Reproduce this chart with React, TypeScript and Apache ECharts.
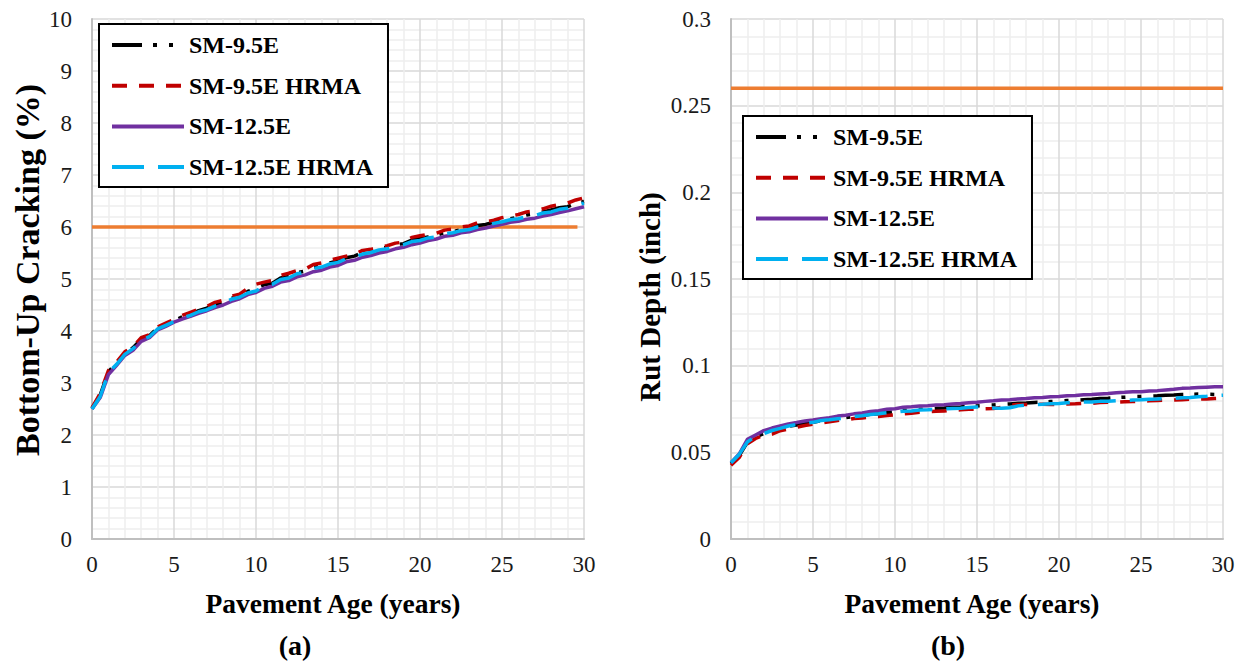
import React, { useEffect, useRef } from "react";
import * as echarts from "echarts";

// Pavement age (years)
const T = [0, 0.5, 1, 1.5, 2, 2.5, 3, 3.5, 4, 4.5, 5, 5.5, 6, 6.5, 7, 7.5, 8, 8.5, 9, 9.5, 10, 10.5, 11, 11.5, 12, 12.5, 13, 13.5, 14, 14.5, 15, 15.5, 16, 16.5, 17, 17.5, 18, 18.5, 19, 19.5, 20, 20.5, 21, 21.5, 22, 22.5, 23, 23.5, 24, 24.5, 25, 25.5, 26, 26.5, 27, 27.5, 28, 28.5, 29, 29.5, 30];

const NAMES = ["SM-9.5E", "SM-9.5E HRMA", "SM-12.5E", "SM-12.5E HRMA"];

// (a) Bottom-up cracking (%)
const CRACK_SM95 = [2.51, 2.77, 3.22, 3.38, 3.57, 3.68, 3.84, 3.91, 4.06, 4.13, 4.2, 4.27, 4.32, 4.39, 4.44, 4.51, 4.56, 4.63, 4.67, 4.76, 4.82, 4.89, 4.92, 5.02, 5.05, 5.12, 5.15, 5.23, 5.26, 5.31, 5.35, 5.41, 5.44, 5.51, 5.53, 5.58, 5.61, 5.66, 5.68, 5.75, 5.78, 5.81, 5.84, 5.89, 5.91, 5.95, 5.98, 6.03, 6.05, 6.09, 6.12, 6.16, 6.19, 6.23, 6.25, 6.29, 6.33, 6.37, 6.39, 6.45, 6.49];
const CRACK_SM95H = [2.52, 2.8, 3.24, 3.4, 3.6, 3.7, 3.87, 3.93, 4.08, 4.15, 4.22, 4.3, 4.36, 4.42, 4.47, 4.55, 4.59, 4.67, 4.71, 4.82, 4.9, 4.94, 4.97, 5.07, 5.11, 5.16, 5.19, 5.28, 5.31, 5.36, 5.4, 5.44, 5.47, 5.55, 5.57, 5.61, 5.64, 5.69, 5.71, 5.8, 5.83, 5.86, 5.88, 5.94, 5.96, 6.0, 6.02, 6.08, 6.1, 6.13, 6.18, 6.21, 6.24, 6.29, 6.31, 6.35, 6.4, 6.43, 6.46, 6.52, 6.56];
const CRACK_SM125 = [2.5, 2.72, 3.16, 3.34, 3.53, 3.63, 3.8, 3.87, 4.02, 4.09, 4.17, 4.23, 4.28, 4.34, 4.39, 4.45, 4.5, 4.57, 4.62, 4.7, 4.74, 4.82, 4.86, 4.94, 4.97, 5.04, 5.08, 5.14, 5.17, 5.23, 5.26, 5.33, 5.36, 5.42, 5.45, 5.5, 5.53, 5.58, 5.61, 5.66, 5.69, 5.74, 5.77, 5.82, 5.84, 5.89, 5.91, 5.95, 5.98, 6.02, 6.05, 6.09, 6.11, 6.15, 6.17, 6.21, 6.24, 6.28, 6.31, 6.35, 6.39];
const CRACK_SM125H = [2.5, 2.74, 3.2, 3.36, 3.55, 3.66, 3.82, 3.89, 4.04, 4.11, 4.18, 4.25, 4.3, 4.37, 4.41, 4.48, 4.53, 4.61, 4.65, 4.73, 4.77, 4.87, 4.9, 4.99, 5.02, 5.1, 5.13, 5.2, 5.23, 5.29, 5.32, 5.39, 5.42, 5.48, 5.51, 5.56, 5.58, 5.64, 5.66, 5.72, 5.74, 5.79, 5.81, 5.87, 5.89, 5.93, 5.95, 6.0, 6.02, 6.07, 6.1, 6.14, 6.16, 6.2, 6.22, 6.27, 6.29, 6.34, 6.36, 6.42, 6.46];
const CRACK_LIMIT_T = [0, 29.6];
const CRACK_LIMIT = [6, 6];

// (b) Rut depth (inch)
const RUT_SM95 = [0.0435, 0.0482, 0.0558, 0.059, 0.0608, 0.0625, 0.0638, 0.065, 0.0658, 0.0667, 0.0673, 0.0682, 0.0688, 0.0695, 0.07, 0.0707, 0.0712, 0.0719, 0.0723, 0.073, 0.0735, 0.0742, 0.0744, 0.0748, 0.075, 0.0754, 0.0756, 0.076, 0.0762, 0.0766, 0.0768, 0.0771, 0.0773, 0.0777, 0.0779, 0.0783, 0.0785, 0.0788, 0.079, 0.0793, 0.0795, 0.0799, 0.08, 0.0804, 0.0806, 0.081, 0.0812, 0.0816, 0.0818, 0.0821, 0.0822, 0.0825, 0.0826, 0.0829, 0.0831, 0.0834, 0.0835, 0.0836, 0.0835, 0.0834, 0.0833];
const RUT_SM95H = [0.0425, 0.047, 0.055, 0.058, 0.0598, 0.0605, 0.0625, 0.0635, 0.0645, 0.0655, 0.0662, 0.067, 0.0676, 0.0684, 0.0688, 0.0695, 0.0698, 0.0703, 0.0706, 0.0712, 0.0716, 0.0722, 0.0726, 0.0731, 0.0733, 0.0737, 0.0738, 0.0742, 0.0745, 0.0748, 0.075, 0.0752, 0.0753, 0.076, 0.0772, 0.0776, 0.0776, 0.0777, 0.0778, 0.0776, 0.0777, 0.0779, 0.078, 0.0782, 0.0783, 0.0787, 0.0789, 0.079, 0.0792, 0.0793, 0.0795, 0.0797, 0.0799, 0.0801, 0.0802, 0.0804, 0.0806, 0.0807, 0.0808, 0.081, 0.0812];
const RUT_SM125 = [0.044, 0.049, 0.0575, 0.06, 0.0625, 0.064, 0.0652, 0.0664, 0.0672, 0.0681, 0.0686, 0.0694, 0.07, 0.0709, 0.0714, 0.0722, 0.0727, 0.0735, 0.074, 0.0748, 0.0752, 0.076, 0.0763, 0.0767, 0.0769, 0.0773, 0.0775, 0.0779, 0.0782, 0.0786, 0.0789, 0.0794, 0.0797, 0.0802, 0.0804, 0.0808, 0.0811, 0.0815, 0.0817, 0.082, 0.0822, 0.0827, 0.0828, 0.0832, 0.0833, 0.0837, 0.0839, 0.0844, 0.0846, 0.0849, 0.085, 0.0854, 0.0856, 0.086, 0.0864, 0.0869, 0.0871, 0.0874, 0.0876, 0.0878, 0.0878];
const RUT_SM125H = [0.044, 0.0488, 0.056, 0.0592, 0.0608, 0.0626, 0.0638, 0.0652, 0.066, 0.0668, 0.0673, 0.0684, 0.0688, 0.0694, 0.0698, 0.0706, 0.0711, 0.0718, 0.0722, 0.0728, 0.0731, 0.0737, 0.0739, 0.0744, 0.0745, 0.0749, 0.075, 0.0753, 0.0754, 0.0758, 0.0762, 0.0763, 0.0756, 0.0755, 0.0757, 0.0768, 0.0773, 0.0775, 0.0777, 0.078, 0.0782, 0.0786, 0.0787, 0.079, 0.0791, 0.0794, 0.0795, 0.0798, 0.0799, 0.0802, 0.0803, 0.0806, 0.0807, 0.081, 0.0811, 0.0815, 0.0817, 0.0821, 0.0823, 0.0828, 0.083];
const RUT_LIMIT_T = [0, 30];
const RUT_LIMIT = [0.26, 0.26];

const X_TICKS = [0, 5, 10, 15, 20, 25, 30];

const SERIF = "'Liberation Serif', 'Times New Roman', serif";
const COLORS = ["#000000", "#C00000", "#7030A0", "#00B0F0"];
const DASHES: number[][] = [
  [30, 11, 4, 12, 4, 12],
  [15, 12],
  [],
  [32, 14],
];

function pairs(xs: number[], ys: number[]) {
  return xs.map((x, i) => [x, ys[i]]);
}

export default function App() {
  const ref = useRef<HTMLDivElement>(null);
  useEffect(() => {
    if (!ref.current) return;
    const chart = echarts.init(ref.current, null, { renderer: "svg" });

    const grids = [
      { left: 92, top: 19, width: 492, height: 520 },
      { left: 731, top: 19, width: 492, height: 520 },
    ];

    const labelStyle = {
      fontFamily: SERIF,
      fontSize: 23,
      fontWeight: "normal",
      color: "#1a1a1a",
    };

    const xAxisBase = (gi: number) => ({
      type: "value",
      gridIndex: gi,
      min: 0,
      max: 30,
      interval: 5,
      axisLine: { show: true, lineStyle: { color: "#BFBFBF", width: 2 } },
      axisTick: { show: false },
      axisLabel: {
        ...labelStyle,
        margin: 14,
        formatter: (v: number) => (X_TICKS.includes(v) ? String(v) : ""),
      },
      splitLine: { show: true, lineStyle: { color: "#D9D9D9", width: 1.5 } },
      minorTick: { show: false, splitNumber: 5 },
      minorSplitLine: { show: true, lineStyle: { color: "#EEEEEE", width: 1.5 } },
    });

    const yAxisBase = (gi: number, max: number, interval: number) => ({
      type: "value",
      gridIndex: gi,
      min: 0,
      max,
      interval,
      axisLine: { show: true, lineStyle: { color: "#BFBFBF", width: 2 } },
      axisTick: { show: false },
      axisLabel: { ...labelStyle, margin: 20 },
      splitLine: { show: true, lineStyle: { color: "#D9D9D9", width: 1.5 } },
      minorTick: { show: false, splitNumber: 5 },
      minorSplitLine: { show: true, lineStyle: { color: "#EEEEEE", width: 1.5 } },
    });

    const crack = [CRACK_SM95, CRACK_SM95H, CRACK_SM125, CRACK_SM125H];
    const rut = [RUT_SM95, RUT_SM95H, RUT_SM125, RUT_SM125H];

    const mkSeries = (gi: number, data: number[][], name: string, idx: number) => ({
      type: "line",
      name,
      xAxisIndex: gi,
      yAxisIndex: gi,
      data,
      symbol: "none",
      smooth: false,
      z: 3 + idx,
      lineStyle: {
        color: COLORS[idx],
        width: 3.5,
        type: DASHES[idx].length ? DASHES[idx] : "solid",
        cap: "butt",
      },
      itemStyle: { color: COLORS[idx] },
      emphasis: { disabled: true },
    });

    const series: any[] = [
      {
        type: "line",
        name: "limitA",
        xAxisIndex: 0,
        yAxisIndex: 0,
        data: pairs(CRACK_LIMIT_T, CRACK_LIMIT),
        symbol: "none",
        z: 2,
        lineStyle: { color: "#ED7D31", width: 3.5 },
        emphasis: { disabled: true },
      },
      {
        type: "line",
        name: "limitB",
        xAxisIndex: 1,
        yAxisIndex: 1,
        data: pairs(RUT_LIMIT_T, RUT_LIMIT),
        symbol: "none",
        z: 2,
        lineStyle: { color: "#ED7D31", width: 3.5 },
        emphasis: { disabled: true },
      },
    ];
    NAMES.forEach((n, i) => series.push(mkSeries(0, pairs(T, crack[i]), n, i)));
    NAMES.forEach((n, i) => series.push(mkSeries(1, pairs(T, rut[i]), n, i)));

    const legendBase = (left: number, top: number) => ({
      show: true,
      data: NAMES,
      orient: "vertical",
      left,
      top,
      itemWidth: 72,
      itemHeight: 14,
      itemGap: 16.7,
      padding: [9, 15, 8, 11],
      borderColor: "#000",
      borderWidth: 2,
      backgroundColor: "#fff",
      selectedMode: false,
      itemStyle: { opacity: 0 },
      lineStyle: { width: 4 },
      textStyle: {
        fontFamily: SERIF,
        fontSize: 24,
        fontWeight: "bold",
        color: "#000",
        lineHeight: 24,
      },
      z: 10,
    });

    const txt = (text: string, x: number, y: number, size: number, rot = 0) => ({
      type: "text",
      x,
      y,
      rotation: rot,
      z: 20,
      style: {
        text,
        fill: "#000",
        fontFamily: SERIF,
        fontSize: size,
        fontWeight: "bold",
        align: "center",
        verticalAlign: "middle",
        textAlign: "center",
        textVerticalAlign: "middle",
      },
    });

    chart.setOption({
      animation: false,
      backgroundColor: "#fff",
      textStyle: { fontFamily: SERIF },
      grid: grids,
      xAxis: [xAxisBase(0), xAxisBase(1)],
      yAxis: [yAxisBase(0, 10, 1), yAxisBase(1, 0.3, 0.05)],
      legend: [legendBase(99, 24), legendBase(743, 116)],
      series,
      graphic: [
        txt("Bottom-Up Cracking (%)", 27, 270, 34, Math.PI / 2),
        txt("Rut Depth (inch)", 650, 297, 29, Math.PI / 2),
        txt("Pavement Age (years)", 333, 603, 27.5),
        txt("Pavement Age (years)", 972, 603, 27.5),
        txt("(a)", 295, 645, 28),
        txt("(b)", 948, 645, 28),
      ],
    });
    return () => chart.dispose();
  }, []);
  return (
    <div
      ref={ref}
      style={{ position: "fixed", left: 0, top: 0, width: 1246, height: 665 }}
    />
  );
}
